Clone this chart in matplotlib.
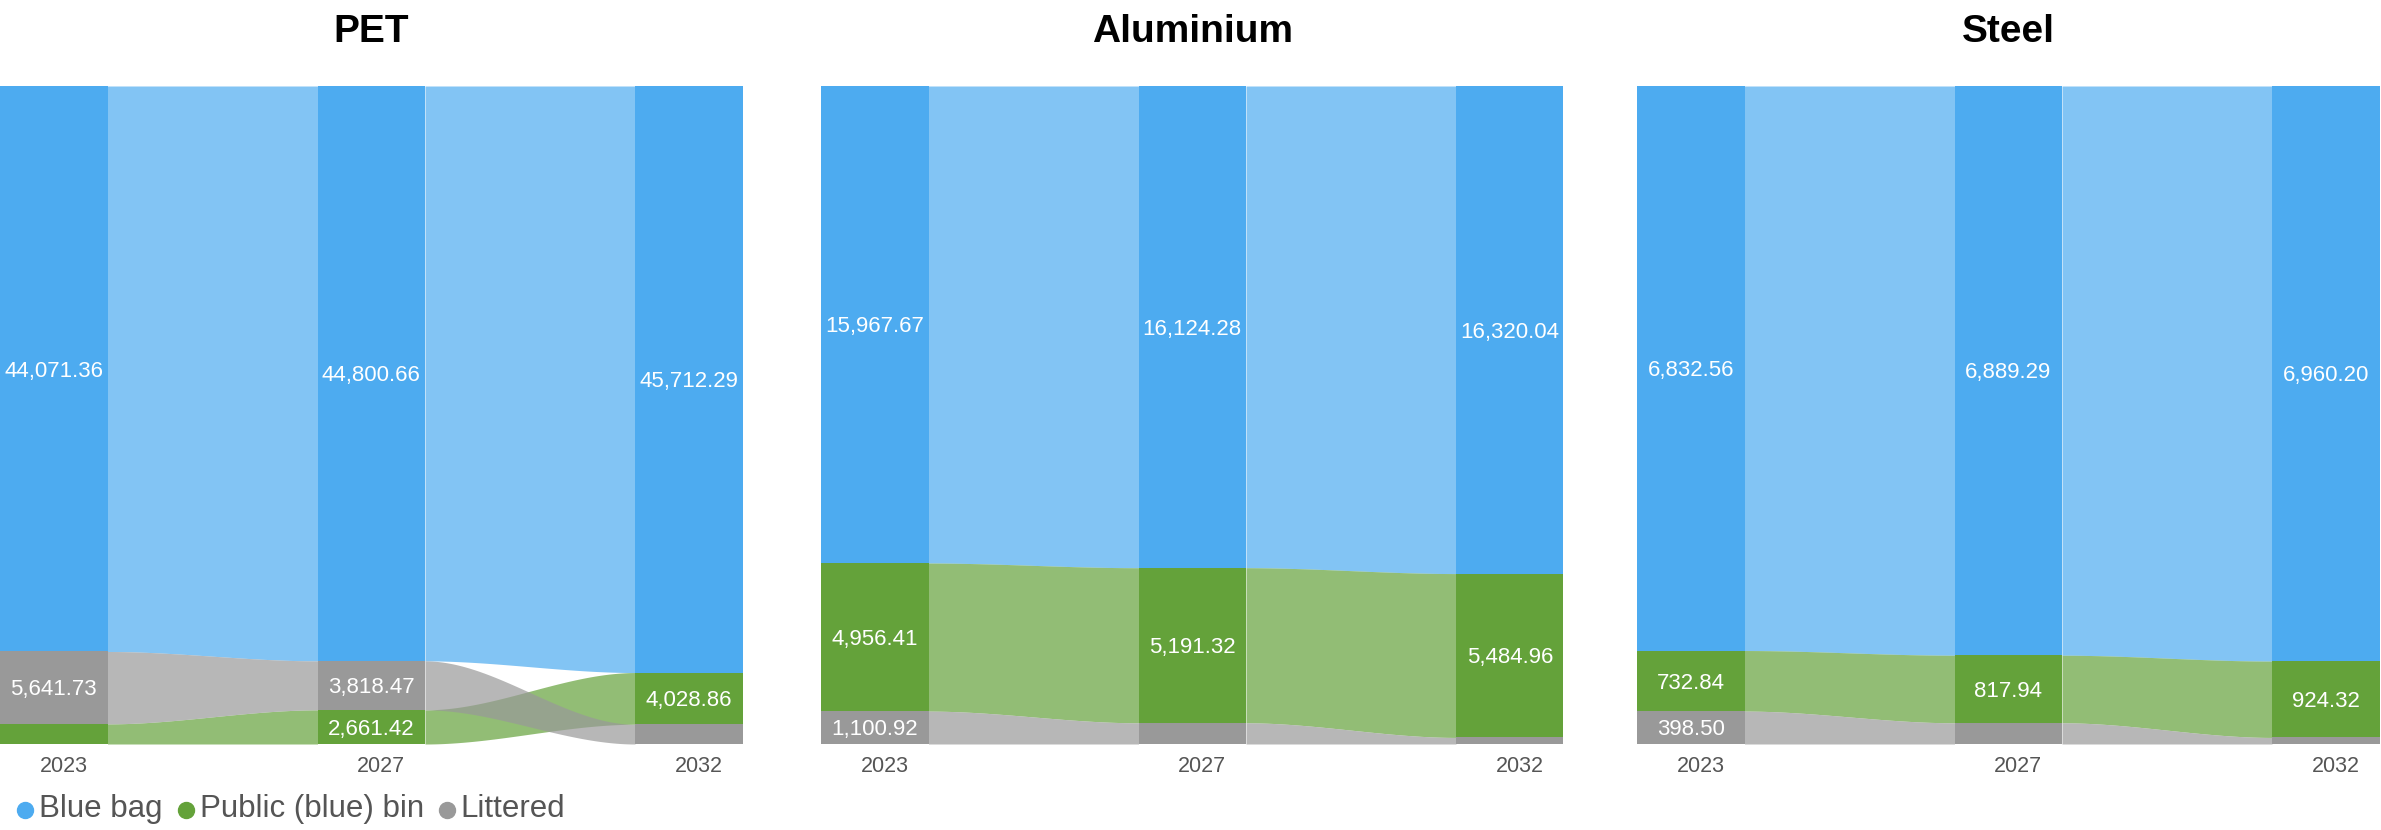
import numpy as np
import matplotlib.pyplot as plt
from matplotlib.lines import Line2D
from matplotlib.transforms import blended_transform_factory

plt.rcParams["font.family"] = ["Liberation Sans", "DejaVu Sans"]

years = ["2023", "2027", "2032"]
categories = ["Blue bag", "Public (blue) bin", "Littered"]
colors = ["#4DABF0", "#64A23A", "#999999"]

pet_blue_bag = [44071.36, 44800.66, 45712.29]
pet_public_bin = [1567.46, 2661.42, 4028.86]
pet_littered = [5641.73, 3818.47, 1539.40]

alu_blue_bag = [15967.67, 16124.28, 16320.04]
alu_public_bin = [4956.41, 5191.32, 5484.96]
alu_littered = [1100.92, 709.39, 220.03]

steel_blue_bag = [6832.56, 6889.29, 6960.20]
steel_public_bin = [732.84, 817.94, 924.32]
steel_littered = [398.50, 256.67, 79.38]

panels = [
    ("PET", [pet_blue_bag, pet_public_bin, pet_littered]),
    ("Aluminium", [alu_blue_bag, alu_public_bin, alu_littered]),
    ("Steel", [steel_blue_bag, steel_public_bin, steel_littered]),
]

W, H = 2381, 830
fig = plt.figure(figsize=(W / 100, H / 100), dpi=100)

# panel layout in pixels
panel_left = [0, 821, 1637]
panel_w = 742.5
top_px, bot_px = 86, 744
spacing = 317.5
node_w = 107.5 / spacing


def stack(series, col):
    # categories sorted by value, largest at the top
    vals = [s[col] for s in series]
    order = sorted(range(len(vals)), key=lambda k: -vals[k])
    pos = {}
    y = sum(vals)
    for k in order:
        pos[k] = (y - vals[k], y)
        y -= vals[k]
    return pos


t = np.linspace(0, 1, 120)
s = 3 * t ** 2 - 2 * t ** 3

for left, (title, series) in zip(panel_left, panels):
    ax = fig.add_axes([left / W, (H - bot_px) / H, panel_w / W, (bot_px - top_px) / H])
    total = max(sum(sr[c] for sr in series) for c in range(3))
    ax.set_xlim(0, 2 + node_w)
    ax.set_ylim(0, total)
    ax.axis("off")

    stacks = [stack(series, c) for c in range(3)]

    # flows
    for c in range(2):
        xs = c + node_w + t * (1 - node_w)
        for k in range(3):
            a0, a1 = stacks[c][k]
            b0, b1 = stacks[c + 1][k]
            lo = a0 + (b0 - a0) * s
            hi = a1 + (b1 - a1) * s
            ax.fill_between(xs, lo, hi, color=colors[k], alpha=0.7, lw=0)

    # nodes
    for c in range(3):
        for k in range(3):
            y0, y1 = stacks[c][k]
            ax.bar(c, y1 - y0, bottom=y0, width=node_w, align="edge",
                   color=colors[k], lw=0)
            if (y1 - y0) / total >= 0.04:
                ax.annotate(f"{series[k][c]:,.2f}", (c + node_w / 2, (y0 + y1) / 2),
                            xytext=(0, -5.6), textcoords="offset points",
                            ha="center", va="baseline", color="white", fontsize=16)

    tr = blended_transform_factory(ax.transData, ax.transAxes)
    for c, yr in enumerate(years):
        ax.text(c + node_w / 2 + 10 / spacing, -(772 - bot_px) / (bot_px - top_px), yr,
                transform=tr, ha="center", va="baseline", color="#555555", fontsize=15.5)

    ax.text(0.5, 1 + (top_px - 42) / (bot_px - top_px), title, transform=ax.transAxes,
            ha="center", va="baseline", fontsize=28, fontweight="bold", color="black")

# legend under the first panel
renderer = fig.canvas.get_renderer()
x = 17
for name, col in zip(categories, colors):
    fig.add_artist(Line2D([(x + 8) / W], [(H - 810) / H], marker="o", markersize=11.5,
                          color=col, lw=0, transform=fig.transFigure))
    txt = fig.text((x + 22) / W, (H - 817) / H, name, ha="left", va="baseline",
                   fontsize=22.5, color="#555555")
    bb = txt.get_window_extent(renderer)
    x = bb.x1 + 15

fig.savefig("out.png", dpi=100)
